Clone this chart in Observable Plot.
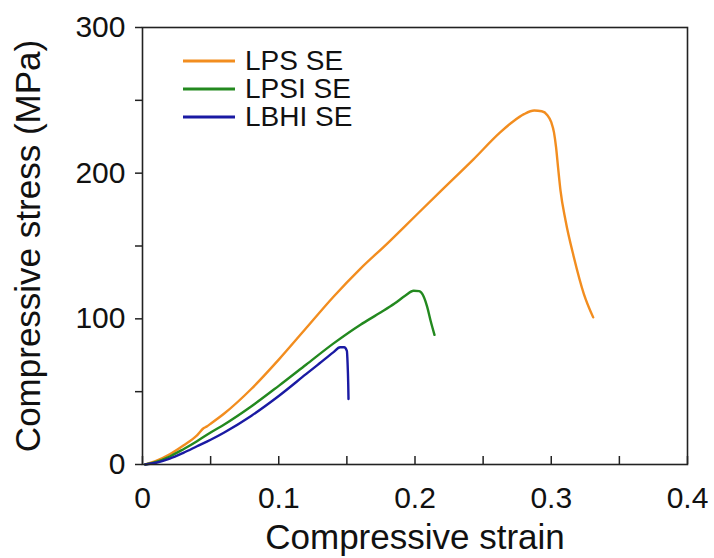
<!DOCTYPE html>
<html><head><meta charset="utf-8">
<script src="https://cdn.jsdelivr.net/npm/d3@7"></script>
<script src="https://cdn.jsdelivr.net/npm/@observablehq/plot@0.6"></script>
<style>
body{margin:0;background:#fff;}
#wrap{position:relative;width:714px;height:558px;font-family:"Liberation Sans",Arial,Helvetica,sans-serif;}
#legend{position:absolute;left:183px;top:47px;font-size:28px;color:#111;}
.row{display:flex;align-items:center;height:28px;line-height:28px;}
.row svg{display:block;margin-right:10px;}
</style>
</head><body><div id="wrap"><div id="chart"></div><div id="legend"></div></div>
<script>
const seriesNames = ["LPS SE", "LPSI SE", "LBHI SE"];
const seriesColors = ["#F28D1F", "#23891F", "#1A1AA3"];

const lpsStrain = [0.002, 0.01, 0.02, 0.03, 0.04, 0.045, 0.047, 0.05, 0.06, 0.08, 0.10, 0.12, 0.14, 0.16, 0.18, 0.192, 0.2187, 0.2429, 0.2625, 0.272, 0.28, 0.2875, 0.293, 0.297, 0.300, 0.302, 0.3035, 0.305, 0.3068, 0.3105, 0.3166, 0.3239, 0.3308];
const lpsStress = [0, 2.5, 7, 13, 20, 25, 26, 28, 35, 52, 72, 93.5, 115, 134.5, 152, 163, 187.5, 209.5, 228, 235.5, 240.5, 243, 242.5, 240, 235, 228, 218, 204, 188, 167.5, 142.3, 117.2, 101];

const lpsiStrain = [0.002, 0.01, 0.02, 0.03, 0.04, 0.05, 0.06, 0.08, 0.10, 0.12, 0.14, 0.16, 0.175, 0.185, 0.193, 0.199, 0.203, 0.2065, 0.209, 0.2115, 0.2143];
const lpsiStress = [0, 1.8, 5.5, 10.5, 16, 22, 27.5, 40, 54, 68.5, 83, 96, 104.5, 110.5, 116, 119.3, 119, 115, 108, 98.5, 89];

const lbhiStrain = [0.002, 0.01, 0.02, 0.03, 0.04, 0.05, 0.06, 0.08, 0.10, 0.12, 0.13, 0.14, 0.145, 0.148, 0.150, 0.1505, 0.151, 0.1512];
const lbhiStress = [0, 1.2, 4, 8, 12.5, 17, 22, 33.5, 47, 62, 69.5, 77, 80.5, 80.5, 78, 70, 55, 45];

const xTicks = [0, 0.1, 0.2, 0.3, 0.4];
const xTickLabels = ["0", "0.1", "0.2", "0.3", "0.4"];
const xMinorTicks = [0, 0.05, 0.1, 0.15, 0.2, 0.25, 0.3, 0.35, 0.4];
const yTicks = [0, 100, 200, 300];
const yMinorTicks = [0, 50, 100, 150, 200, 250, 300];

const strains = [lpsStrain, lpsiStrain, lbhiStrain];
const stresses = [lpsStress, lpsiStress, lbhiStress];
const data = seriesNames.flatMap((name, i) => strains[i].map((x, j) => ({series: name, strain: x, stress: stresses[i][j]})));

const font = '"Liberation Sans", Arial, Helvetica, sans-serif';

const chart = Plot.plot({
  width: 714,
  height: 558,
  marginLeft: 142,
  marginRight: 27,
  marginTop: 27,
  marginBottom: 94,
  style: {fontFamily: font, color: "#111", background: "#fff"},
  x: {domain: [0, 0.4]},
  y: {domain: [0, 300]},
  color: {domain: seriesNames, range: seriesColors},
  marks: [
    Plot.line(data, {x: "strain", y: "stress", z: "series", stroke: "series", strokeWidth: 2.4, curve: "monotone-x"}),
    Plot.axisX(xMinorTicks, {tickSize: -8, text: null, strokeWidth: 1.5, stroke: "#222", label: null}),
    Plot.axisX(xTicks, {tickSize: 0, tickPadding: 22, fontSize: 30, tickFormat: (d, i) => xTickLabels[i], label: null}),
    Plot.axisX([], {label: "Compressive strain", labelAnchor: "center", labelOffset: 84, labelArrow: "none", fontSize: 35, tickSize: 0}),
    Plot.axisY(yMinorTicks, {tickSize: 7, text: null, strokeWidth: 1.5, stroke: "#222", label: null}),
    Plot.axisY(yTicks, {tickSize: 0, tickPadding: 17, fontSize: 30, label: null}),
    Plot.axisY([], {label: "Compressive stress (MPa)", labelAnchor: "center", labelOffset: 127, labelArrow: "none", fontSize: 35, tickSize: 0}),
    Plot.frame({stroke: "#222", strokeWidth: 1.6})
  ]
});
document.getElementById("chart").appendChild(chart);

const legend = document.getElementById("legend");
seriesNames.forEach((name, i) => {
  const row = document.createElement("div");
  row.className = "row";
  row.innerHTML = `<svg width="52" height="28"><line x1="0" x2="52" y1="14" y2="14" stroke="${seriesColors[i]}" stroke-width="3"/></svg><span>${name}</span>`;
  legend.appendChild(row);
});
</script>
</body></html>
